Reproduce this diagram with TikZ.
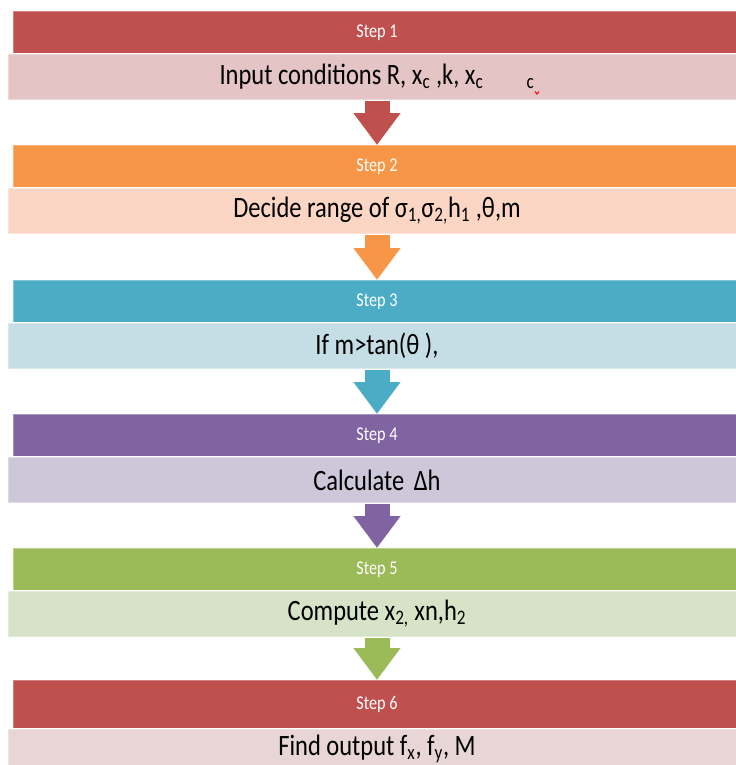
\documentclass[tikz,border=0pt]{standalone}
\usepackage{fontspec}
\usepackage{graphicx}
\setmainfont{Carlito}
\usetikzlibrary{arrows.meta}
\definecolor{redH}{RGB}{192,80,77}
\definecolor{redL}{RGB}{228,196,196}
\definecolor{redLL}{RGB}{232,213,213}
\definecolor{orH}{RGB}{247,150,70}
\definecolor{orL}{RGB}{251,214,196}
\definecolor{blH}{RGB}{75,172,198}
\definecolor{blL}{RGB}{197,222,230}
\definecolor{puH}{RGB}{128,100,162}
\definecolor{puL}{RGB}{205,199,218}
\definecolor{grH}{RGB}{155,187,89}
\definecolor{grL}{RGB}{215,227,198}
\newcommand{\tall}[1]{\scalebox{0.98}[1.18]{#1}}

\begin{document}
\begin{tikzpicture}[x=0.75pt,y=0.75pt,yscale=-1,xscale=1,
    head/.style={fill=#1, draw=white, draw opacity=0.3, line width=0.6pt, anchor=north, inner sep=0pt,
        minimum width=546pt, minimum height=31.5pt, text=white, font=\fontsize{12.4}{14}\selectfont},
    body/.style={fill=#1, draw=white, draw opacity=0.35, line width=1.5pt, anchor=north, inner sep=0pt,
        minimum width=553.5pt, minimum height=34.5pt, font=\fontsize{18.75}{21}\selectfont},
    flow/.style={draw=#1, line width=18.75pt, -{Triangle[length=24pt, width=33.75pt]}}]
            \useasboundingbox (0,0) rectangle (736,765);
            \clip (0,0) rectangle (736,765);
            % step 1
            \node [head=redH] (h1) at (377,11) {\tall{Step 1}};
            \node [body=redL] (b1) at (377,53) {\tall{Input conditions R, x\textsubscript{c} ,k, x\textsubscript{c}\hspace{33pt}\textsubscript{c}}};
            \draw [red, line width=0.8pt] (535,91.5) -- (537,94) -- (539,91.5) ;
            % step 2
            \node [head=orH] (h2) at (377,145) {\tall{Step 2}};
            \node [body=orL] (b2) at (377,187) {\tall{Decide range of σ\textsubscript{1,}σ\textsubscript{2,}h\textsubscript{1} ,θ,m}};
            % step 3
            \node [head=blH] (h3) at (377,280) {\tall{Step 3}};
            \node [body=blL] (b3) at (377,322) {\tall{If m>tan(θ ),}};
            % step 4
            \node [head=puH] (h4) at (377,414) {\tall{Step 4}};
            \node [body=puL] (b4) at (377,456) {\tall{Calculate \,Δh}};
            % step 5
            \node [head=grH] (h5) at (377,548) {\tall{Step 5}};
            \node [body=grL] (b5) at (377,590) {\tall{Compute x\textsubscript{2,} xn,h\textsubscript{2}}};
            % step 6
            \node [head=redH, minimum height=36pt] (h6) at (377,680) {\tall{Step 6}};
            \node [body=redLL, minimum height=30pt] (b6) at (377,728) {\tall{Find output f\textsubscript{x}, f\textsubscript{y}, M}};
            % arrows
            \draw [flow=redH] (b1.south) -- (h2.north) ;
            \draw [flow=orH] (b2.south) -- (h3.north) ;
            \draw [flow=blH] (b3.south) -- (h4.north) ;
            \draw [flow=puH] (b4.south) -- (h5.north) ;
            \draw [flow=grH] (b5.south) -- (h6.north) ;
\end{tikzpicture}
\end{document}
